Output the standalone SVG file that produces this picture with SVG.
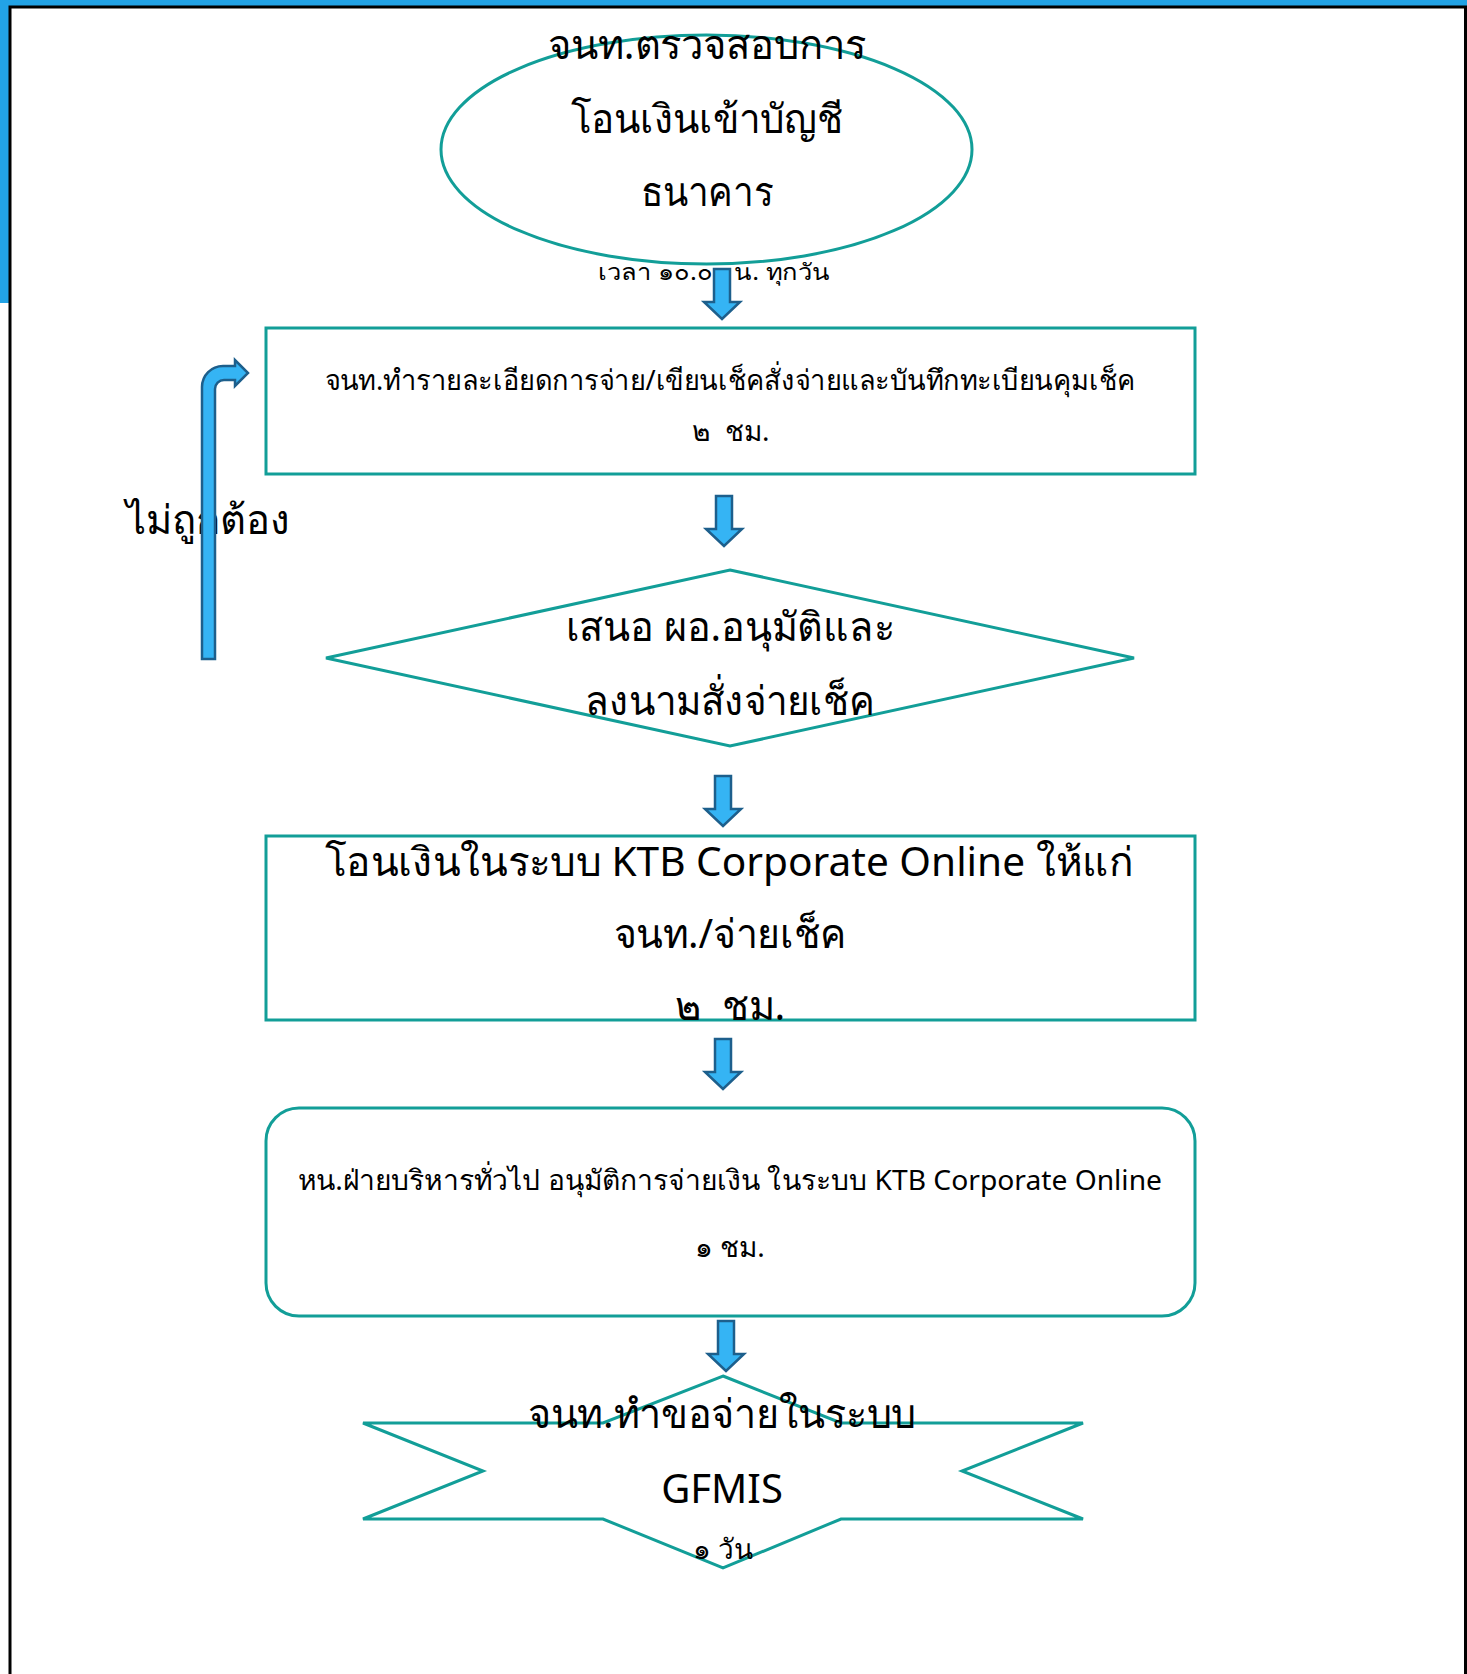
<svg xmlns="http://www.w3.org/2000/svg" width="1467" height="1674" viewBox="0 0 1467 1674">
<style>
.shape{fill:#ffffff;stroke:#129E98;stroke-width:3}
.t{font-family:"Noto Sans","Liberation Sans",sans-serif;fill:#000;text-anchor:middle}
.big{font-size:40px}
.mid{font-size:28px}
.sm{font-size:23px}
.arrow{fill:#35B4F4;stroke:#1D5F8C;stroke-width:2.5;stroke-linejoin:miter}
</style>
<defs>
<path id="down" d="M-8,0 H8 V33 H18 L0,50 L-18,33 H-8 Z"/>
</defs>
<rect x="0" y="0" width="1467" height="1674" fill="#ffffff"/>
<g id="frame">
<rect x="0" y="0" width="1467" height="6" fill="#22A3E6"/>
<rect x="0" y="0" width="9" height="303" fill="#22A3E6"/>
<path d="M10,1674 V7 H1465.5 V1674" fill="none" stroke="#000" stroke-width="3"/>
</g>
<g id="node-check">
<ellipse class="shape" cx="706.5" cy="149.5" rx="265.5" ry="114.5"/>
<text class="t big" x="707" y="59" textLength="318" lengthAdjust="spacingAndGlyphs">จนท.ตรวจสอบการ</text>
<text class="t big" x="707" y="133" textLength="272" lengthAdjust="spacingAndGlyphs">โอนเงินเข้าบัญชี</text>
<text class="t big" x="707" y="206" textLength="132" lengthAdjust="spacingAndGlyphs">ธนาคาร</text>
</g>
<g id="node-detail">
<rect class="shape" x="266" y="328" width="929" height="146"/>
<text class="t mid" x="730" y="390" textLength="811" lengthAdjust="spacingAndGlyphs">จนท.ทำรายละเอียดการจ่าย/เขียนเช็คสั่งจ่ายและบันทึกทะเบียนคุมเช็ค</text>
<text class="t mid" x="731" y="441" xml:space="preserve">๒  ชม.</text>
</g>
<g id="node-approve">
<polygon class="shape" points="730,570 1134,658 730,746 326,658"/>
<text class="t big" x="730" y="641" textLength="329" lengthAdjust="spacingAndGlyphs">เสนอ ผอ.อนุมัติและ</text>
<text class="t big" x="730" y="715" textLength="290" lengthAdjust="spacingAndGlyphs">ลงนามสั่งจ่ายเช็ค</text>
</g>
<g id="node-transfer">
<rect class="shape" x="266" y="836" width="929" height="184"/>
<text class="t big" x="729" y="876" textLength="808" lengthAdjust="spacingAndGlyphs">โอนเงินในระบบ KTB Corporate Online ให้แก่</text>
<text class="t big" x="730" y="948" textLength="233" lengthAdjust="spacingAndGlyphs">จนท./จ่ายเช็ค</text>
<text class="t big" x="730" y="1020" xml:space="preserve">๒  ชม.</text>
</g>
<g id="node-head">
<rect class="shape" x="266" y="1108" width="929" height="208" rx="33" ry="33"/>
<text class="t mid" x="730" y="1190" textLength="864" lengthAdjust="spacingAndGlyphs">หน.ฝ่ายบริหารทั่วไป อนุมัติการจ่ายเงิน ในระบบ KTB Corporate Online</text>
<text class="t mid" x="730" y="1257">๑ ชม.</text>
</g>
<g id="node-gfmis">
<polygon class="shape" points="723,1376 841,1423 1083,1423 962,1471 1083,1519 841,1519 723,1568 603,1519 363,1519 483,1471 363,1423 603,1423"/>
<text class="t big" x="722" y="1428" textLength="388" lengthAdjust="spacingAndGlyphs">จนท.ทำขอจ่ายในระบบ</text>
<text class="t big" x="722" y="1503">GFMIS</text>
<text class="t mid" x="723" y="1559">๑ วัน</text>
</g>
<g id="labels">
<text class="t sm" x="714" y="280" textLength="232" lengthAdjust="spacingAndGlyphs">เวลา ๑๐.๐๐ น. ทุกวัน</text>
<text class="t big" x="208" y="534" textLength="164" lengthAdjust="spacingAndGlyphs">ไม่ถูกต้อง</text>
</g>
<g id="connectors">
<use href="#down" class="arrow" x="722" y="269"/>
<use href="#down" class="arrow" x="724" y="496"/>
<use href="#down" class="arrow" x="723" y="776"/>
<use href="#down" class="arrow" x="723" y="1039"/>
<use href="#down" class="arrow" x="726" y="1321"/>
<path class="arrow" d="M202,659 V387 A21,21 0 0 1 223,366 H235 V360 L248,373 L235,386 V380 H224 A9,9 0 0 0 215,389 V659 Z"/>
</g>
</svg>
